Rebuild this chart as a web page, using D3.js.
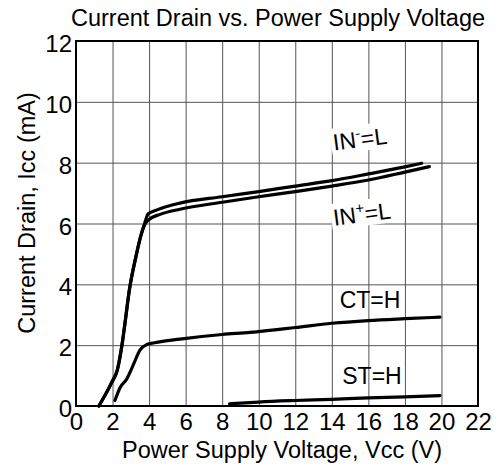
<!DOCTYPE html>
<html>
<head>
<meta charset="utf-8">
<script src="https://cdn.jsdelivr.net/npm/d3@7"></script>
<style>
  body { margin: 0; background: #fff; }
  svg { display: block; font-family: "Liberation Sans", Arial, Helvetica, sans-serif; }
</style>
</head>
<body>
<script>
// Current drain vs. power supply voltage

const WIDTH  = 500;
const HEIGHT = 469;
const margin = { top: 41, right: 22, bottom: 63, left: 76 };

const xTicks = [0, 2, 4, 6, 8, 10, 12, 14, 16, 18, 20, 22];
const yTicks = [0, 2, 4, 6, 8, 10, 12];

// curves, [Vcc, Icc]
const inMinusL = [[1.25, 0], [1.95, 0.77], [2.26, 1.18], [2.53, 2.06], [2.68, 2.72], [2.92, 3.81],
                  [3.28, 4.91], [3.55, 5.6], [3.78, 6.05], [3.95, 6.32], [4.4, 6.44], [5.69, 6.67],
                  [8, 6.88], [10, 7.05], [12, 7.23], [14, 7.41], [16, 7.63], [18, 7.86], [18.92, 7.98]];
const inPlusL  = [[1.25, 0], [1.95, 0.77], [2.26, 1.18], [2.53, 2.06], [2.68, 2.72], [2.92, 3.81],
                  [3.28, 4.91], [3.55, 5.6], [3.78, 5.98], [4.0, 6.13], [4.6, 6.3], [5.69, 6.47],
                  [8, 6.7], [10, 6.88], [12, 7.05], [14, 7.23], [16, 7.43], [18, 7.69], [19.34, 7.87]];
const ctH      = [[2.13, 0.18], [2.3, 0.45], [2.41, 0.6], [2.77, 0.88], [3.14, 1.36], [3.5, 1.84],
                  [3.87, 2.02], [4.3, 2.08], [5.69, 2.2], [8, 2.35], [9.52, 2.42], [12, 2.58],
                  [14, 2.72], [16, 2.81], [18, 2.87], [19.92, 2.92]];
const stH      = [[8.4, 0.07], [10, 0.13], [12, 0.18], [14, 0.22], [16, 0.27], [18, 0.3], [19.92, 0.34]];

const w = WIDTH - margin.left - margin.right;
const h = HEIGHT - margin.top - margin.bottom;

let svg = d3.select('body').append('svg')
              .attr('width', WIDTH)
              .attr('height', HEIGHT);

let g = svg.append('g')
           .attr('transform', `translate(${margin.left},${margin.top})`);

let x = d3.scaleLinear().domain([0, 22]).range([0, w]);
let y = d3.scaleLinear().domain([0, 12]).range([h, 0]);

// grid
g.append('g')
  .attr('transform', `translate(0,${h})`)
  .call(d3.axisBottom(x).tickValues(xTicks).tickSize(-h).tickFormat(''))
  .call(s => s.select('.domain').remove())
  .selectAll('line').attr('stroke', '#555').attr('stroke-width', 1);

g.append('g')
  .call(d3.axisLeft(y).tickValues(yTicks).tickSize(-w).tickFormat(''))
  .call(s => s.select('.domain').remove())
  .selectAll('line').attr('stroke', '#555').attr('stroke-width', 1);

// tick labels
let xAxis = g.append('g')
  .attr('transform', `translate(0,${h})`)
  .call(d3.axisBottom(x).tickValues(xTicks).tickSize(0));
xAxis.select('.domain').remove();
xAxis.selectAll('text')
  .attr('y', 24).attr('dy', 0)
  .attr('font-size', 24).attr('font-family', null).attr('fill', '#000');

let yAxis = g.append('g')
  .call(d3.axisLeft(y).tickValues(yTicks).tickSize(0).tickPadding(4));
yAxis.select('.domain').remove();
yAxis.selectAll('text')
  .attr('dy', '0.44em')
  .attr('font-size', 24).attr('font-family', null).attr('fill', '#000');

// frame
g.append('rect')
  .attr('width', w).attr('height', h)
  .attr('fill', 'none').attr('stroke', '#000').attr('stroke-width', 2);

// labels on the curves, white boxes behind
function curveLabel(cx, cy, angle, parts) {
  let lg = g.append('g').attr('transform', `translate(${cx},${cy}) rotate(${angle})`);
  let t = lg.append('text').attr('text-anchor', 'middle').attr('font-size', 23);
  parts.forEach(p => {
    t.append('tspan')
      .attr('dy', p.dy || 0)
      .attr('font-size', p.size || 23)
      .text(p.s);
  });
  let b = t.node().getBBox();
  lg.insert('rect', 'text')
    .attr('x', b.x - 2).attr('y', b.y + 1)
    .attr('width', b.width + 4).attr('height', b.height - 2)
    .attr('fill', '#fff');
}

curveLabel(361 - margin.left, 147 - margin.top, -7.5,
  [{ s: 'IN' }, { s: '-', size: 15, dy: -9 }, { s: '=L', dy: 9 }]);
curveLabel(363 - margin.left, 222 - margin.top, -7.5,
  [{ s: 'IN' }, { s: '+', size: 15, dy: -9 }, { s: '=L', dy: 9 }]);

g.append('text')
  .attr('x', 370 - margin.left).attr('y', 308 - margin.top)
  .attr('text-anchor', 'middle').attr('font-size', 23)
  .text('CT=H');

g.append('text')
  .attr('x', 372 - margin.left).attr('y', 384 - margin.top)
  .attr('text-anchor', 'middle').attr('font-size', 23)
  .text('ST=H');

// curves
let line = d3.line()
             .x(d => x(d[0]))
             .y(d => y(d[1]))
             .curve(d3.curveMonotoneX);

[inMinusL, inPlusL, ctH, stH].forEach(series => {
  g.append('path')
    .datum(series)
    .attr('d', line)
    .attr('fill', 'none')
    .attr('stroke', '#000')
    .attr('stroke-width', 3.2)
    .attr('stroke-linecap', 'round')
    .attr('stroke-linejoin', 'round');
});

// titles
svg.append('text')
  .attr('x', 278).attr('y', 26)
  .attr('text-anchor', 'middle').attr('font-size', 23.5)
  .text('Current Drain vs. Power Supply Voltage');

svg.append('text')
  .attr('x', 282).attr('y', 458)
  .attr('text-anchor', 'middle').attr('font-size', 23.5)
  .text('Power Supply Voltage, Vcc (V)');

svg.append('text')
  .attr('transform', 'translate(35,213) rotate(-90)')
  .attr('text-anchor', 'middle').attr('font-size', 23.5)
  .text('Current Drain, Icc (mA)');
</script>
</body>
</html>
